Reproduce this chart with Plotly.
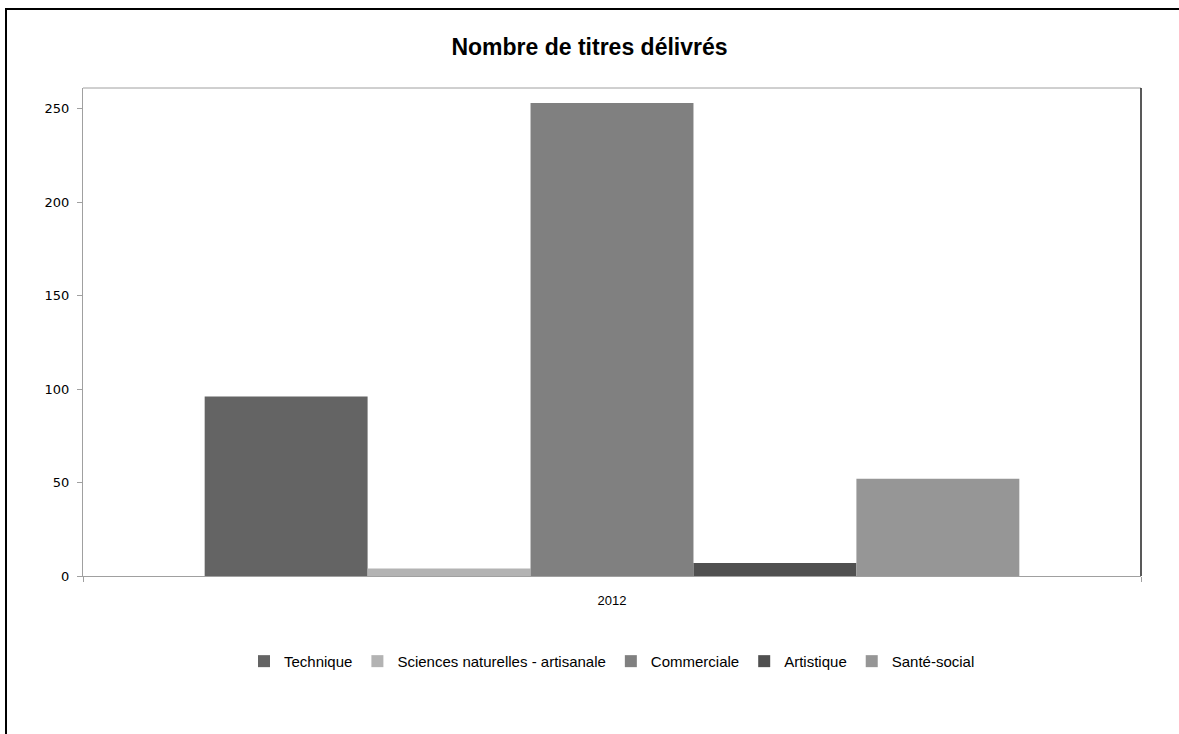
import plotly.graph_objects as go

categories = ["2012"]
series_names = ["Technique", "Sciences naturelles - artisanale", "Commerciale", "Artistique", "Santé-social"]
series_values = [[96], [4], [253], [7], [52]]
series_colors = ["#646464", "#b3b3b3", "#808080", "#505050", "#969696"]
y_ticks = [0, 50, 100, 150, 200, 250]

fig = go.Figure()
for name, vals, col in zip(series_names, series_values, series_colors):
    fig.add_trace(go.Bar(x=categories, y=vals, name=name, marker=dict(color=col, line=dict(width=0))))

fig.update_layout(
    width=1179, height=734,
    margin=dict(l=83, r=38, t=88, b=158),
    paper_bgcolor="white", plot_bgcolor="white",
    barmode="group", bargap=0.23, bargroupgap=0,
    title=dict(text="<b>Nombre de titres délivrés</b>", x=0.5, xanchor="center",
               y=1 - 47 / 734, yanchor="middle",
               font=dict(family="Liberation Sans", size=23, color="black")),
    showlegend=True,
    legend=dict(orientation="h", x=0.5, xanchor="center", y=-0.175, yanchor="middle",
                font=dict(family="Liberation Sans", size=15, color="black"),
                itemwidth=30, traceorder="normal"),
    xaxis=dict(type="category", range=[-0.5, 0.5], showline=True, linecolor="#a0a0a0", linewidth=1,
               ticks="outside", tickson="boundaries", ticklen=5, tickcolor="#a0a0a0",
               ticklabelstandoff=12,
               tickfont=dict(family="Liberation Sans", size=13, color="black"), showgrid=False),
    yaxis=dict(range=[0, 261], tickvals=y_ticks, showline=True, linecolor="#a0a0a0", linewidth=1,
               ticks="outside", ticklen=5, tickcolor="#a0a0a0", showgrid=False, zeroline=False,
               ticklabelstandoff=5,
               tickfont=dict(family="DejaVu Sans", size=13, color="black")),
    shapes=[
        dict(type="line", xref="paper", yref="paper", x0=0, x1=1, y0=1, y1=1,
             line=dict(color="#a0a0a0", width=1)),
        dict(type="line", xref="paper", yref="paper", x0=1, x1=1, y0=0, y1=1,
             line=dict(color="#222222", width=1.5)),
        dict(type="rect", xref="paper", yref="paper",
             x0=-77 / 1058, x1=1.2, y0=-0.5, y1=1 + 79 / 488,
             line=dict(color="black", width=2), fillcolor="rgba(0,0,0,0)", layer="above"),
    ],
)

fig.write_html("out.html", config={"displayModeBar": False},
               post_script="document.body.style.margin='0';document.body.style.padding='0';")
